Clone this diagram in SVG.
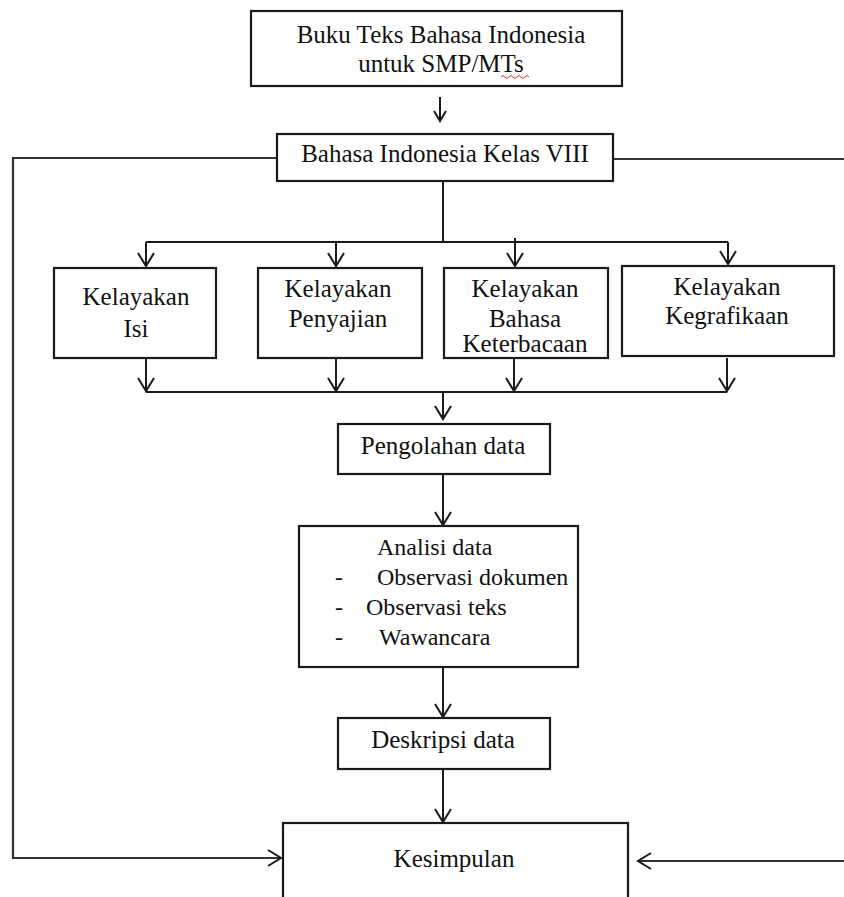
<svg xmlns="http://www.w3.org/2000/svg" width="844" height="897" viewBox="0 0 844 897" font-family="Liberation Serif, Times New Roman, serif">
<style>
.box{fill:#fff;stroke:#1a1a1a;stroke-width:2.2}
.t{font-size:25px;fill:#111;text-anchor:middle}
.ts{font-size:24px;fill:#111}
.c{fill:none;stroke:#1a1a1a;stroke-width:2}
.cg{fill:none;stroke:#333;stroke-width:2.2}
</style>
<defs>
<marker id="ah" markerUnits="userSpaceOnUse" markerWidth="20" markerHeight="20" viewBox="-14 -10 20 20" refX="0" refY="0" orient="auto">
<path d="M-13,-8 L0,0 L-13,8" fill="none" stroke="#1a1a1a" stroke-width="2"/>
</marker>
<marker id="ahs" markerUnits="userSpaceOnUse" markerWidth="20" markerHeight="20" viewBox="-14 -10 20 20" refX="0" refY="0" orient="auto">
<path d="M-10,-6 L0,0 L-10,6" fill="none" stroke="#1a1a1a" stroke-width="2"/>
</marker>
</defs>
<rect width="844" height="897" fill="#fff"/>
<g id="connectors">
<path class="c" d="M440,97 L440,121" marker-end="url(#ahs)"/>
<path class="cg" d="M277,158 L13,158 L13,858 L281,858" marker-end="url(#ah)"/>
<path class="cg" d="M613,159 L844,159"/>
<path class="cg" d="M844,861 L638,861" marker-end="url(#ah)"/>
<path class="c" d="M443,181 L443,242"/>
<path class="c" d="M146,242 L728,242"/>
<path class="c" d="M146,242 L146,266" marker-end="url(#ah)"/>
<path class="c" d="M336,242 L336,266" marker-end="url(#ah)"/>
<path class="c" d="M515,238 L515,266" marker-end="url(#ah)"/>
<path class="c" d="M728,242 L728,264" marker-end="url(#ah)"/>
<path class="c" d="M146,357 L146,391" marker-end="url(#ah)"/>
<path class="c" d="M336,357 L336,391" marker-end="url(#ah)"/>
<path class="c" d="M514,357 L514,391" marker-end="url(#ah)"/>
<path class="c" d="M727,358 L727,391" marker-end="url(#ah)"/>
<path class="c" d="M146,392 L727,392"/>
<path class="c" d="M443,392 L443,419" marker-end="url(#ah)"/>
<path class="c" d="M443,474 L443,525" marker-end="url(#ah)"/>
<path class="c" d="M443,667 L443,717" marker-end="url(#ah)"/>
<path class="c" d="M443,769 L443,822" marker-end="url(#ah)"/>
</g>
<g id="buku">
<rect class="box" x="251" y="11" width="371" height="75"/>
<text class="t" x="441" y="43" font-family="Liberation Serif, serif">Buku Teks Bahasa Indonesia</text>
<text class="t" x="441" y="72">untuk SMP/MTs</text>
<path d="M501,77 q2,-3 4,0 t4,0 t4,0 t4,0 t4,0 t4,0 t4,0" fill="none" stroke="#e03030" stroke-width="1"/>
</g>
<g id="kelas">
<rect class="box" x="277" y="134" width="336" height="47"/>
<text class="t" x="445" y="162">Bahasa Indonesia Kelas VIII</text>
</g>
<g id="isi">
<rect class="box" x="54" y="268" width="162" height="90"/>
<text class="t" x="136" y="305">Kelayakan</text>
<text class="t" x="136" y="337">Isi</text>
</g>
<g id="penyajian">
<rect class="box" x="258" y="268" width="164" height="90"/>
<text class="t" x="338" y="297">Kelayakan</text>
<text class="t" x="338" y="327">Penyajian</text>
</g>
<g id="bahasa">
<rect class="box" x="444" y="268" width="164" height="90"/>
<text class="t" x="525" y="297">Kelayakan</text>
<text class="t" x="525" y="327">Bahasa</text>
<text class="t" x="525" y="352">Keterbacaan</text>
</g>
<g id="kegrafikaan">
<rect class="box" x="622" y="266" width="212" height="90"/>
<text class="t" x="727" y="295">Kelayakan</text>
<text class="t" x="727" y="324">Kegrafikaan</text>
</g>
<g id="pengolahan">
<rect class="box" x="338" y="424" width="212" height="50"/>
<text class="t" x="443" y="454">Pengolahan data</text>
</g>
<g id="analisi">
<rect class="box" x="299" y="526" width="279" height="141"/>
<text class="ts" x="377" y="555">Analisi data</text>
<text class="ts" x="335" y="585">-</text>
<text class="ts" x="377" y="585">Observasi dokumen</text>
<text class="ts" x="335" y="615">-</text>
<text class="ts" x="366" y="615">Observasi teks</text>
<text class="ts" x="335" y="645">-</text>
<text class="ts" x="379" y="645">Wawancara</text>
</g>
<g id="deskripsi">
<rect class="box" x="338" y="718" width="212" height="51"/>
<text class="t" x="443" y="748">Deskripsi data</text>
</g>
<g id="kesimpulan">
<rect class="box" x="283" y="823" width="345" height="90"/>
<text class="t" x="454" y="867">Kesimpulan</text>
</g>
</svg>
